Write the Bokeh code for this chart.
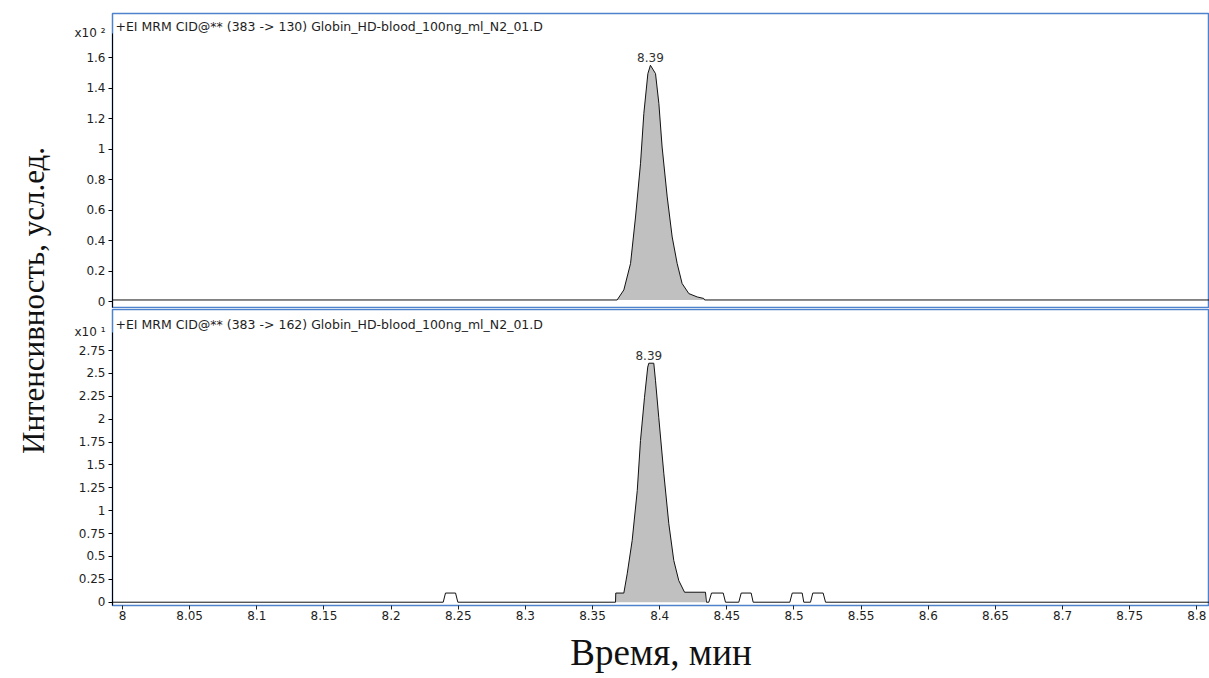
import numpy as np
from bokeh.plotting import figure
from bokeh.layouts import row, column
from bokeh.models import Range1d, FixedTicker, Label
from bokeh.embed import file_html
from bokeh.resources import INLINE

# ---------------- data ----------------
x_ticks = [8.0, 8.05, 8.1, 8.15, 8.2, 8.25, 8.3, 8.35, 8.4, 8.45, 8.5, 8.55,
           8.6, 8.65, 8.7, 8.75, 8.8]
x_tick_labels = ["8", "8.05", "8.1", "8.15", "8.2", "8.25", "8.3", "8.35", "8.4",
                 "8.45", "8.5", "8.55", "8.6", "8.65", "8.7", "8.75", "8.8"]

top_ticks = [0, 0.2, 0.4, 0.6, 0.8, 1.0, 1.2, 1.4, 1.6]
top_tick_labels = ["0", "0.2", "0.4", "0.6", "0.8", "1", "1.2", "1.4", "1.6"]
bot_ticks = [0, 0.25, 0.5, 0.75, 1.0, 1.25, 1.5, 1.75, 2.0, 2.25, 2.5, 2.75]
bot_tick_labels = ["0", "0.25", "0.5", "0.75", "1", "1.25", "1.5", "1.75", "2",
                   "2.25", "2.5", "2.75"]

# transition 383 -> 130 (intensity x10^2)
top_rt = [7.99, 8.3683, 8.3733, 8.3783, 8.3820, 8.3857, 8.3882, 8.3912, 8.3931,
          8.3969, 8.3994, 8.4018, 8.4056, 8.4093, 8.4130, 8.4167, 8.4217, 8.4279,
          8.4328, 8.4335, 8.81]
top_int = [0.01, 0.01, 0.076, 0.25, 0.555, 0.905, 1.235, 1.497, 1.552,
           1.497, 1.300, 1.015, 0.687, 0.424, 0.25, 0.118, 0.052, 0.030,
           0.020, 0.01, 0.01]
top_window = (8.3683, 8.4335)

# transition 383 -> 162 (intensity x10^1)
bot_rt = [7.99, 8.2388, 8.2405, 8.2480, 8.2497,
          8.3671, 8.3673, 8.3733, 8.3758, 8.3795, 8.3833, 8.3857, 8.3887, 8.3911,
          8.3919, 8.3956, 8.3969, 8.3993, 8.4031, 8.4068, 8.4105, 8.4142, 8.4185,
          8.4341, 8.4348, 8.4366, 8.4386, 8.4473, 8.4490,
          8.4589, 8.4607, 8.4681, 8.4696,
          8.4969, 8.4987, 8.5061, 8.5073,
          8.5123, 8.5140, 8.5217, 8.5235, 8.81]
bot_int = [0, 0, 0.1, 0.1, 0,
           0, 0.1, 0.1, 0.31, 0.674, 1.22, 1.767, 2.24, 2.57,
           2.612, 2.612, 2.42, 2.02, 1.403, 0.857, 0.456, 0.237, 0.109,
           0.109, 0, 0, 0.1, 0.1, 0,
           0, 0.1, 0.1, 0,
           0, 0.1, 0.1, 0,
           0, 0.1, 0.1, 0, 0]
bot_window = (8.3671, 8.4341)

panel_titles = ["+EI MRM CID@** (383 -> 130) Globin_HD-blood_100ng_ml_N2_01.D",
                "+EI MRM CID@** (383 -> 162) Globin_HD-blood_100ng_ml_N2_01.D"]
scale_labels = ["x10 ²", "x10 ¹"]
y_title = "Интенсивность, усл.ед."
x_title = "Время, мин"

# ---------------- style ----------------
SANS = "DejaVu Sans"
SERIF = "Liberation Serif"
FRAME_BLUE = "#4F82CC"
TXT = "#1e1e1e"
FILL = "#C0C0C0"

x_range = Range1d(7.99255, 8.8094)


def panel(rt, inten, window, ticks, tick_labels, y_start, y_end,
          height, mb_top, mb_bottom, with_x, title, scale_label, title_y, scale_y):
    p = figure(width=1149, height=height, x_range=x_range,
               y_range=Range1d(y_start, y_end), output_backend="svg",
               toolbar_location=None,
               x_axis_location="below" if with_x else None,
               y_axis_location="left",
               min_border_left=52, min_border_right=0,
               min_border_top=mb_top, min_border_bottom=mb_bottom,
               outline_line_color=FRAME_BLUE, outline_line_width=1.5,
               background_fill_color="white", border_fill_color="white")
    p.grid.visible = False

    rt = np.array(rt)
    inten = np.array(inten)
    m = (rt >= window[0]) & (rt <= window[1])
    base = min(inten[m][0], inten[m][-1])
    p.varea(x=rt[m], y1=np.full(m.sum(), base), y2=inten[m], fill_color=FILL)
    p.line(rt, inten, line_color="#111111", line_width=1)

    # y axis: numeric ticks drawn as (minor) tick marks, plus the scale factor
    # "x10^n" as an extra unmarked label at the top of the axis
    yax = p.yaxis[0]
    yax.ticker = FixedTicker(ticks=list(ticks) + [scale_y], minor_ticks=list(ticks))
    overrides = dict(zip(ticks, tick_labels))
    overrides[scale_y] = scale_label
    yax.major_label_overrides = overrides
    yax.bounds = (y_start, scale_y)
    yax.axis_line_color = "black"
    yax.major_tick_line_color = None
    yax.major_tick_out = 4
    yax.major_tick_in = 0
    yax.minor_tick_line_color = "black"
    yax.minor_tick_out = 4
    yax.minor_tick_in = 0
    yax.major_label_standoff = 3
    yax.major_label_text_font = SANS
    yax.major_label_text_font_size = "12px"
    yax.major_label_text_color = TXT

    if with_x:
        xax = p.xaxis[0]
        xax.ticker = FixedTicker(ticks=x_ticks)
        xax.major_label_overrides = dict(zip(x_ticks, x_tick_labels))
        xax.axis_line_color = None
        xax.major_tick_line_color = "#222222"
        xax.major_tick_out = 4
        xax.major_tick_in = 0
        xax.minor_tick_line_color = None
        xax.major_label_standoff = 1
        xax.major_label_text_font = SANS
        xax.major_label_text_font_size = "12px"
        xax.major_label_text_color = TXT
        xax.axis_label = x_title
        xax.axis_label_text_font = SERIF
        xax.axis_label_text_font_size = "37px"
        xax.axis_label_text_font_style = "normal"
        xax.axis_label_text_color = "#111111"
        xax.axis_label_standoff = 9

    # chromatogram title inside the frame
    p.add_layout(Label(x=x_range.start, y=title_y, x_offset=3, text=title,
                       text_font=SANS, text_font_size="12.5px",
                       text_color=TXT, text_baseline="middle",
                       text_align="left"))
    # retention time of the apex
    k = int(np.argmax(inten))
    p.add_layout(Label(x=rt[k], y=inten[k], y_offset=3, text=f"{rt[k]:.2f}",
                       text_font=SANS, text_font_size="12px",
                       text_color="#333333", text_baseline="bottom",
                       text_align="center"))
    return p


top = panel(top_rt, top_int, top_window, top_ticks, top_tick_labels,
            -0.0394, 1.892, 308, 13, 1, False,
            panel_titles[0], scale_labels[0], 1.807, 1.761)
bot = panel(bot_rt, bot_int, bot_window, bot_ticks, bot_tick_labels,
            -0.036, 3.199, 370, 1, 73, True,
            panel_titles[1], scale_labels[1], 3.035, 2.948)

# left strip carrying the shared y title
left = figure(width=60, height=678, x_range=Range1d(0, 60), y_range=Range1d(0, 678),
              output_backend="svg", toolbar_location=None,
              x_axis_location=None, y_axis_location=None,
              min_border=0, outline_line_color=None,
              background_fill_color="white", border_fill_color="white")
left.grid.visible = False
left.text(x=[33], y=[378], text=[y_title], angle=np.pi / 2,
          text_font=SERIF, text_font_size="31px", text_color="#111111",
          text_align="center", text_baseline="middle")

layout = row(left, column(top, bot))
open("out.html", "w").write(file_html(layout, INLINE))
